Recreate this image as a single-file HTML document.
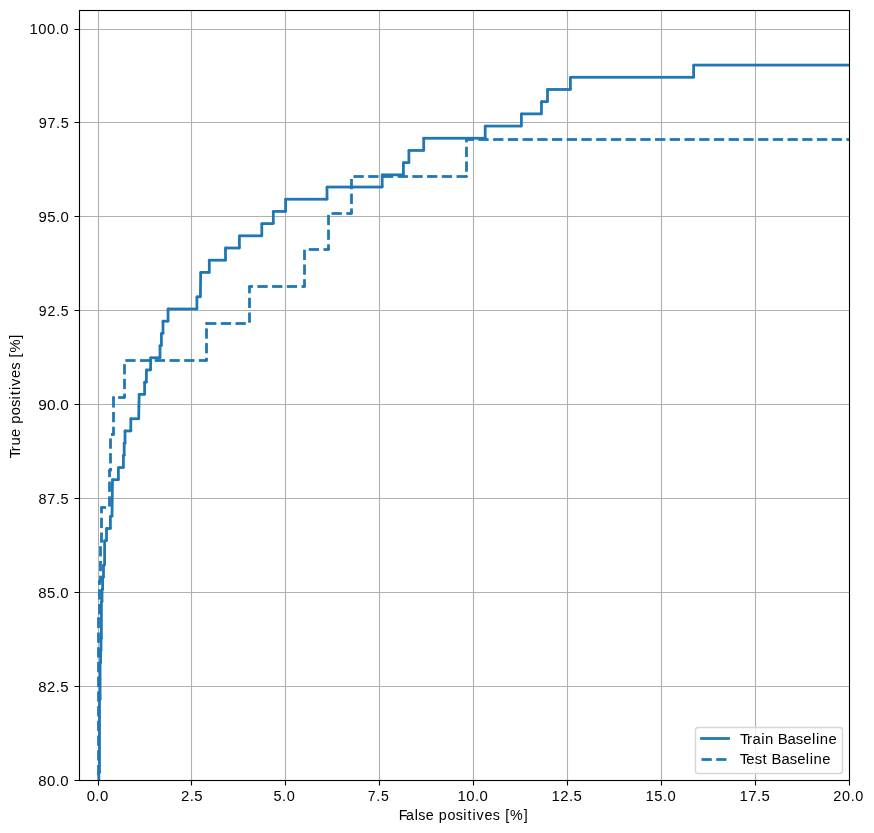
<!DOCTYPE html><html><head><meta charset="utf-8"><style>html,body{margin:0;padding:0;background:#fff;}svg{display:block;will-change:transform;}text{font-family:"Liberation Sans",sans-serif;fill:#000;}</style></head><body>
<svg width="874" height="833" viewBox="0 0 874 833">
<rect width="874" height="833" fill="#fff"/>
<path d="M98.5 10.5V780.5M191.5 10.5V780.5M285.5 10.5V780.5M379.5 10.5V780.5M473.5 10.5V780.5M567.5 10.5V780.5M661.5 10.5V780.5M755.5 10.5V780.5M79.5 686.5H849.5M79.5 592.5H849.5M79.5 498.5H849.5M79.5 404.5H849.5M79.5 310.5H849.5M79.5 216.5H849.5M79.5 122.5H849.5M79.5 29.5H849.5" stroke="#b0b0b0" stroke-width="1.11" fill="none"/>
<defs><clipPath id="c"><rect x="79.5" y="10.5" width="770" height="770"/></clipPath></defs>
<g clip-path="url(#c)" fill="#1f77b4">
<rect x="97.410" y="772.403" width="2.78" height="17.597"/><rect x="98.800" y="771.013" width="0.700" height="2.78"/><rect x="98.110" y="699.232" width="2.78" height="73.171"/><rect x="99.500" y="697.842" width="0.600" height="2.78"/><rect x="98.710" y="662.647" width="2.78" height="36.585"/><rect x="100.100" y="661.257" width="0.500" height="2.78"/><rect x="99.210" y="650.452" width="2.78" height="12.195"/><rect x="100.600" y="649.062" width="0.400" height="2.78"/><rect x="99.610" y="638.257" width="2.78" height="12.195"/><rect x="101.000" y="636.867" width="0.400" height="2.78"/><rect x="100.010" y="601.671" width="2.78" height="36.585"/><rect x="101.400" y="600.281" width="0.600" height="2.78"/><rect x="100.610" y="589.476" width="2.78" height="12.195"/><rect x="102.000" y="588.086" width="0.600" height="2.78"/><rect x="101.210" y="577.281" width="2.78" height="12.195"/><rect x="102.600" y="575.891" width="0.900" height="2.78"/><rect x="102.110" y="565.086" width="2.78" height="12.195"/><rect x="103.500" y="563.696" width="1.100" height="2.78"/><rect x="103.210" y="540.696" width="2.78" height="24.390"/><rect x="104.600" y="539.306" width="1.900" height="2.78"/><rect x="105.110" y="528.500" width="2.78" height="12.195"/><rect x="106.500" y="527.110" width="3.900" height="2.78"/><rect x="109.010" y="516.305" width="2.78" height="12.195"/><rect x="110.400" y="514.915" width="1.600" height="2.78"/><path d="M112.000 516.305L112.500 479.720" stroke="#1f77b4" stroke-width="2.78" fill="none"/><rect x="112.500" y="478.330" width="5.900" height="2.78"/><rect x="117.010" y="467.525" width="2.78" height="12.195"/><rect x="118.400" y="466.135" width="5.000" height="2.78"/><rect x="122.010" y="455.330" width="2.78" height="12.195"/><rect x="123.400" y="453.940" width="0.800" height="2.78"/><rect x="122.810" y="443.135" width="2.78" height="12.195"/><rect x="124.200" y="441.745" width="0.800" height="2.78"/><rect x="123.610" y="430.940" width="2.78" height="12.195"/><rect x="125.000" y="429.550" width="5.800" height="2.78"/><rect x="129.410" y="418.744" width="2.78" height="12.195"/><rect x="130.800" y="417.354" width="7.900" height="2.78"/><path d="M138.700 418.744L138.900 406.549" stroke="#1f77b4" stroke-width="2.78" fill="none"/><path d="M138.900 406.549L139.200 394.354" stroke="#1f77b4" stroke-width="2.78" fill="none"/><rect x="139.200" y="392.964" width="5.400" height="2.78"/><rect x="143.210" y="382.159" width="2.78" height="12.195"/><rect x="144.600" y="380.769" width="1.800" height="2.78"/><rect x="145.010" y="369.964" width="2.78" height="12.195"/><rect x="146.400" y="368.574" width="4.200" height="2.78"/><rect x="149.210" y="357.769" width="2.78" height="12.195"/><rect x="150.600" y="356.379" width="9.400" height="2.78"/><rect x="158.610" y="345.574" width="2.78" height="12.195"/><rect x="160.000" y="344.184" width="1.400" height="2.78"/><rect x="160.010" y="333.379" width="2.78" height="12.195"/><rect x="161.400" y="331.989" width="1.600" height="2.78"/><rect x="161.610" y="321.183" width="2.78" height="12.195"/><rect x="163.000" y="319.793" width="5.050" height="2.78"/><rect x="166.660" y="308.988" width="2.78" height="12.195"/><rect x="168.050" y="307.598" width="28.850" height="2.78"/><rect x="195.510" y="296.793" width="2.78" height="12.195"/><rect x="196.900" y="295.403" width="3.500" height="2.78"/><path d="M200.400 296.793L200.700 272.403" stroke="#1f77b4" stroke-width="2.78" fill="none"/><rect x="200.700" y="271.013" width="8.600" height="2.78"/><rect x="207.910" y="260.208" width="2.78" height="12.195"/><rect x="209.300" y="258.818" width="16.200" height="2.78"/><rect x="224.110" y="248.013" width="2.78" height="12.195"/><rect x="225.500" y="246.623" width="13.900" height="2.78"/><rect x="238.010" y="235.818" width="2.78" height="12.195"/><rect x="239.400" y="234.428" width="22.400" height="2.78"/><rect x="260.410" y="223.622" width="2.78" height="12.195"/><rect x="261.800" y="222.232" width="11.500" height="2.78"/><rect x="271.910" y="211.427" width="2.78" height="12.195"/><rect x="273.300" y="210.037" width="12.300" height="2.78"/><rect x="284.210" y="199.232" width="2.78" height="12.195"/><rect x="285.600" y="197.842" width="41.400" height="2.78"/><rect x="325.610" y="187.037" width="2.78" height="12.195"/><rect x="327.000" y="185.647" width="55.200" height="2.78"/><rect x="380.810" y="174.842" width="2.78" height="12.195"/><rect x="382.200" y="173.452" width="21.200" height="2.78"/><rect x="402.010" y="162.647" width="2.78" height="12.195"/><rect x="403.400" y="161.257" width="5.500" height="2.78"/><rect x="407.510" y="150.452" width="2.78" height="12.195"/><rect x="408.900" y="149.062" width="14.800" height="2.78"/><rect x="422.310" y="138.257" width="2.78" height="12.195"/><rect x="423.700" y="136.867" width="61.500" height="2.78"/><rect x="483.810" y="126.061" width="2.78" height="12.195"/><rect x="485.200" y="124.671" width="36.200" height="2.78"/><rect x="520.010" y="113.866" width="2.78" height="12.195"/><rect x="521.400" y="112.476" width="20.050" height="2.78"/><rect x="540.060" y="101.671" width="2.78" height="12.195"/><rect x="541.450" y="100.281" width="6.050" height="2.78"/><rect x="546.110" y="89.476" width="2.78" height="12.195"/><rect x="547.500" y="88.086" width="22.900" height="2.78"/><rect x="569.010" y="77.281" width="2.78" height="12.195"/><rect x="570.400" y="75.891" width="123.200" height="2.78"/><rect x="692.210" y="65.086" width="2.78" height="12.195"/><rect x="693.600" y="63.696" width="166.400" height="2.78"/><circle cx="98.800" cy="772.403" r="1.39"/><circle cx="99.500" cy="772.403" r="1.39"/><circle cx="99.500" cy="699.232" r="1.39"/><circle cx="100.100" cy="699.232" r="1.39"/><circle cx="100.100" cy="662.647" r="1.39"/><circle cx="100.600" cy="662.647" r="1.39"/><circle cx="100.600" cy="650.452" r="1.39"/><circle cx="101.000" cy="650.452" r="1.39"/><circle cx="101.000" cy="638.257" r="1.39"/><circle cx="101.400" cy="638.257" r="1.39"/><circle cx="101.400" cy="601.671" r="1.39"/><circle cx="102.000" cy="601.671" r="1.39"/><circle cx="102.000" cy="589.476" r="1.39"/><circle cx="102.600" cy="589.476" r="1.39"/><circle cx="102.600" cy="577.281" r="1.39"/><circle cx="103.500" cy="577.281" r="1.39"/><circle cx="103.500" cy="565.086" r="1.39"/><circle cx="104.600" cy="565.086" r="1.39"/><circle cx="104.600" cy="540.696" r="1.39"/><circle cx="106.500" cy="540.696" r="1.39"/><circle cx="106.500" cy="528.500" r="1.39"/><circle cx="110.400" cy="528.500" r="1.39"/><circle cx="110.400" cy="516.305" r="1.39"/><circle cx="112.000" cy="516.305" r="1.39"/><circle cx="112.500" cy="479.720" r="1.39"/><circle cx="118.400" cy="479.720" r="1.39"/><circle cx="118.400" cy="467.525" r="1.39"/><circle cx="123.400" cy="467.525" r="1.39"/><circle cx="123.400" cy="455.330" r="1.39"/><circle cx="124.200" cy="455.330" r="1.39"/><circle cx="124.200" cy="443.135" r="1.39"/><circle cx="125.000" cy="443.135" r="1.39"/><circle cx="125.000" cy="430.940" r="1.39"/><circle cx="130.800" cy="430.940" r="1.39"/><circle cx="130.800" cy="418.744" r="1.39"/><circle cx="138.700" cy="418.744" r="1.39"/><circle cx="138.900" cy="406.549" r="1.39"/><circle cx="139.200" cy="394.354" r="1.39"/><circle cx="144.600" cy="394.354" r="1.39"/><circle cx="144.600" cy="382.159" r="1.39"/><circle cx="146.400" cy="382.159" r="1.39"/><circle cx="146.400" cy="369.964" r="1.39"/><circle cx="150.600" cy="369.964" r="1.39"/><circle cx="150.600" cy="357.769" r="1.39"/><circle cx="160.000" cy="357.769" r="1.39"/><circle cx="160.000" cy="345.574" r="1.39"/><circle cx="161.400" cy="345.574" r="1.39"/><circle cx="161.400" cy="333.379" r="1.39"/><circle cx="163.000" cy="333.379" r="1.39"/><circle cx="163.000" cy="321.183" r="1.39"/><circle cx="168.050" cy="321.183" r="1.39"/><circle cx="168.050" cy="308.988" r="1.39"/><circle cx="196.900" cy="308.988" r="1.39"/><circle cx="196.900" cy="296.793" r="1.39"/><circle cx="200.400" cy="296.793" r="1.39"/><circle cx="200.700" cy="272.403" r="1.39"/><circle cx="209.300" cy="272.403" r="1.39"/><circle cx="209.300" cy="260.208" r="1.39"/><circle cx="225.500" cy="260.208" r="1.39"/><circle cx="225.500" cy="248.013" r="1.39"/><circle cx="239.400" cy="248.013" r="1.39"/><circle cx="239.400" cy="235.818" r="1.39"/><circle cx="261.800" cy="235.818" r="1.39"/><circle cx="261.800" cy="223.622" r="1.39"/><circle cx="273.300" cy="223.622" r="1.39"/><circle cx="273.300" cy="211.427" r="1.39"/><circle cx="285.600" cy="211.427" r="1.39"/><circle cx="285.600" cy="199.232" r="1.39"/><circle cx="327.000" cy="199.232" r="1.39"/><circle cx="327.000" cy="187.037" r="1.39"/><circle cx="382.200" cy="187.037" r="1.39"/><circle cx="382.200" cy="174.842" r="1.39"/><circle cx="403.400" cy="174.842" r="1.39"/><circle cx="403.400" cy="162.647" r="1.39"/><circle cx="408.900" cy="162.647" r="1.39"/><circle cx="408.900" cy="150.452" r="1.39"/><circle cx="423.700" cy="150.452" r="1.39"/><circle cx="423.700" cy="138.257" r="1.39"/><circle cx="485.200" cy="138.257" r="1.39"/><circle cx="485.200" cy="126.061" r="1.39"/><circle cx="521.400" cy="126.061" r="1.39"/><circle cx="521.400" cy="113.866" r="1.39"/><circle cx="541.450" cy="113.866" r="1.39"/><circle cx="541.450" cy="101.671" r="1.39"/><circle cx="547.500" cy="101.671" r="1.39"/><circle cx="547.500" cy="89.476" r="1.39"/><circle cx="570.400" cy="89.476" r="1.39"/><circle cx="570.400" cy="77.281" r="1.39"/><circle cx="693.600" cy="77.281" r="1.39"/><circle cx="693.600" cy="65.086" r="1.39"/>
<rect x="97.110" y="779.720" width="2.78" height="10.280"/>
<rect x="97.110" y="765.000" width="2.78" height="10.280"/>
<rect x="97.110" y="750.280" width="2.78" height="10.280"/>
<rect x="97.110" y="735.560" width="2.78" height="10.280"/>
<rect x="97.110" y="720.840" width="2.78" height="10.280"/>
<rect x="97.110" y="706.120" width="2.78" height="10.280"/>
<rect x="97.110" y="691.400" width="2.78" height="10.280"/>
<rect x="97.110" y="676.680" width="2.78" height="10.280"/>
<rect x="97.110" y="661.960" width="2.78" height="10.280"/>
<rect x="97.110" y="647.240" width="2.78" height="10.280"/>
<rect x="97.110" y="632.520" width="2.78" height="10.280"/>
<rect x="97.110" y="618.500" width="2.78" height="9.580"/><rect x="98.500" y="617.110" width="0.700" height="2.78"/><circle cx="98.500" cy="618.500" r="1.39"/>
<rect x="98.110" y="604.080" width="2.78" height="10.280"/>
<rect x="98.110" y="589.360" width="2.78" height="10.280"/>
<rect x="98.110" y="581.500" width="2.78" height="3.420"/><rect x="99.500" y="580.110" width="1.000" height="2.78"/><rect x="99.110" y="575.640" width="2.78" height="5.860"/><circle cx="99.500" cy="581.500" r="1.39"/><circle cx="100.500" cy="581.500" r="1.39"/>
<rect x="99.110" y="560.920" width="2.78" height="10.280"/>
<rect x="99.110" y="546.200" width="2.78" height="10.280"/>
<rect x="100.110" y="532.480" width="2.78" height="10.280"/>
<rect x="100.110" y="517.760" width="2.78" height="10.280"/>
<rect x="100.110" y="507.500" width="2.78" height="5.820"/><rect x="101.500" y="506.110" width="4.460" height="2.78"/><circle cx="101.500" cy="507.500" r="1.39"/>
<rect x="108.110" y="496.320" width="2.78" height="10.280"/>
<rect x="108.110" y="481.600" width="2.78" height="10.280"/>
<rect x="108.110" y="470.500" width="2.78" height="6.660"/><rect x="109.500" y="469.110" width="1.000" height="2.78"/><rect x="109.110" y="467.880" width="2.78" height="2.620"/><circle cx="109.500" cy="470.500" r="1.39"/><circle cx="110.500" cy="470.500" r="1.39"/>
<rect x="109.110" y="453.160" width="2.78" height="10.280"/>
<rect x="109.110" y="438.440" width="2.78" height="10.280"/>
<rect x="111.000" y="433.110" width="2.500" height="2.78"/><rect x="112.110" y="426.720" width="2.78" height="7.780"/><circle cx="113.500" cy="434.500" r="1.39"/>
<rect x="112.110" y="412.000" width="2.78" height="10.280"/>
<rect x="112.110" y="397.500" width="2.78" height="10.060"/><rect x="113.500" y="396.110" width="0.220" height="2.78"/><circle cx="113.500" cy="397.500" r="1.39"/>
<rect x="118.160" y="396.110" width="6.340" height="2.78"/><rect x="123.110" y="393.560" width="2.78" height="3.940"/><circle cx="124.500" cy="397.500" r="1.39"/>
<rect x="123.110" y="378.840" width="2.78" height="10.280"/>
<rect x="123.110" y="364.120" width="2.78" height="10.280"/>
<rect x="125.320" y="359.110" width="10.280" height="2.78"/>
<rect x="140.040" y="359.110" width="10.280" height="2.78"/>
<rect x="154.760" y="359.110" width="10.280" height="2.78"/>
<rect x="169.480" y="359.110" width="10.280" height="2.78"/>
<rect x="184.200" y="359.110" width="10.280" height="2.78"/>
<rect x="198.920" y="359.110" width="7.580" height="2.78"/><rect x="205.110" y="357.800" width="2.78" height="2.700"/><circle cx="206.500" cy="360.500" r="1.39"/>
<rect x="205.110" y="343.080" width="2.78" height="10.280"/>
<rect x="205.110" y="328.360" width="2.78" height="10.280"/>
<rect x="205.110" y="323.500" width="2.78" height="0.420"/><rect x="206.500" y="322.110" width="9.860" height="2.78"/><circle cx="206.500" cy="323.500" r="1.39"/>
<rect x="220.800" y="322.110" width="10.280" height="2.78"/>
<rect x="235.520" y="322.110" width="10.280" height="2.78"/>
<rect x="248.110" y="312.480" width="2.78" height="10.280"/>
<rect x="248.110" y="297.760" width="2.78" height="10.280"/>
<rect x="248.110" y="286.500" width="2.78" height="6.820"/><rect x="249.500" y="285.110" width="3.460" height="2.78"/><circle cx="249.500" cy="286.500" r="1.39"/>
<rect x="257.400" y="285.110" width="10.280" height="2.78"/>
<rect x="272.120" y="285.110" width="10.280" height="2.78"/>
<rect x="286.840" y="285.110" width="10.280" height="2.78"/>
<rect x="301.560" y="285.110" width="2.940" height="2.78"/><rect x="303.110" y="279.160" width="2.78" height="7.340"/><circle cx="304.500" cy="286.500" r="1.39"/>
<rect x="303.110" y="264.440" width="2.78" height="10.280"/>
<rect x="303.110" y="249.720" width="2.78" height="10.280"/>
<rect x="308.720" y="248.110" width="10.280" height="2.78"/>
<rect x="323.440" y="248.110" width="5.060" height="2.78"/><rect x="327.110" y="244.280" width="2.78" height="5.220"/><circle cx="328.500" cy="249.500" r="1.39"/>
<rect x="327.110" y="229.560" width="2.78" height="10.280"/>
<rect x="327.110" y="214.840" width="2.78" height="10.280"/>
<rect x="331.600" y="212.110" width="10.280" height="2.78"/>
<rect x="346.320" y="212.110" width="5.180" height="2.78"/><rect x="350.110" y="208.400" width="2.78" height="5.100"/><circle cx="351.500" cy="213.500" r="1.39"/>
<rect x="350.110" y="193.680" width="2.78" height="10.280"/>
<rect x="350.110" y="178.960" width="2.78" height="10.280"/>
<rect x="353.480" y="175.110" width="10.280" height="2.78"/>
<rect x="368.200" y="175.110" width="10.280" height="2.78"/>
<rect x="382.920" y="175.110" width="10.280" height="2.78"/>
<rect x="397.640" y="175.110" width="10.280" height="2.78"/>
<rect x="412.360" y="175.110" width="10.280" height="2.78"/>
<rect x="427.080" y="175.110" width="10.280" height="2.78"/>
<rect x="441.800" y="175.110" width="10.280" height="2.78"/>
<rect x="456.520" y="175.110" width="9.980" height="2.78"/><rect x="465.110" y="176.200" width="2.78" height="0.300"/><circle cx="466.500" cy="176.500" r="1.39"/>
<rect x="465.110" y="161.480" width="2.78" height="10.280"/>
<rect x="465.110" y="146.760" width="2.78" height="10.280"/>
<rect x="465.110" y="139.500" width="2.78" height="2.820"/><rect x="466.500" y="138.110" width="7.460" height="2.78"/><circle cx="466.500" cy="139.500" r="1.39"/>
<rect x="478.400" y="138.110" width="10.280" height="2.78"/>
<rect x="493.120" y="138.110" width="10.280" height="2.78"/>
<rect x="507.840" y="138.110" width="10.280" height="2.78"/>
<rect x="522.560" y="138.110" width="10.280" height="2.78"/>
<rect x="537.280" y="138.110" width="10.280" height="2.78"/>
<rect x="552.000" y="138.110" width="10.280" height="2.78"/>
<rect x="566.720" y="138.110" width="10.280" height="2.78"/>
<rect x="581.440" y="138.110" width="10.280" height="2.78"/>
<rect x="596.160" y="138.110" width="10.280" height="2.78"/>
<rect x="610.880" y="138.110" width="10.280" height="2.78"/>
<rect x="625.600" y="138.110" width="10.280" height="2.78"/>
<rect x="640.320" y="138.110" width="10.280" height="2.78"/>
<rect x="655.040" y="138.110" width="10.280" height="2.78"/>
<rect x="669.760" y="138.110" width="10.280" height="2.78"/>
<rect x="684.480" y="138.110" width="10.280" height="2.78"/>
<rect x="699.200" y="138.110" width="10.280" height="2.78"/>
<rect x="713.920" y="138.110" width="10.280" height="2.78"/>
<rect x="728.640" y="138.110" width="10.280" height="2.78"/>
<rect x="743.360" y="138.110" width="10.280" height="2.78"/>
<rect x="758.080" y="138.110" width="10.280" height="2.78"/>
<rect x="772.800" y="138.110" width="10.280" height="2.78"/>
<rect x="787.520" y="138.110" width="10.280" height="2.78"/>
<rect x="802.240" y="138.110" width="10.280" height="2.78"/>
<rect x="816.960" y="138.110" width="10.280" height="2.78"/>
<rect x="831.680" y="138.110" width="10.280" height="2.78"/>
<rect x="846.400" y="138.110" width="10.280" height="2.78"/>
</g>
<rect x="79.5" y="10.5" width="770.0" height="770.0" fill="none" stroke="#000" stroke-width="1.11"/>
<path d="M98.5 780.5v5M191.5 780.5v5M285.5 780.5v5M379.5 780.5v5M473.5 780.5v5M567.5 780.5v5M661.5 780.5v5M755.5 780.5v5M849.5 780.5v5M79.5 780.5h-5M79.5 686.5h-5M79.5 592.5h-5M79.5 498.5h-5M79.5 404.5h-5M79.5 310.5h-5M79.5 216.5h-5M79.5 122.5h-5M79.5 29.5h-5" stroke="#000" stroke-width="1.11" fill="none"/>
<text transform="scale(1.0754 1)" x="35.47 43.68 51.77 55.99" y="786.17" font-size="13.89">80.0</text>
<text transform="scale(1.0754 1)" x="35.60 43.81 51.90 56.12" y="692.33" font-size="13.89">82.5</text>
<text transform="scale(1.0754 1)" x="35.61 43.82 51.91 56.13" y="598.23" font-size="13.89">85.0</text>
<text transform="scale(1.0431 1)" x="36.83 45.30 53.57 57.99" y="504.33" font-size="13.89">87.5</text>
<text transform="scale(1.1076 1)" x="34.53 42.50 50.40 54.45" y="409.83" font-size="13.89">90.0</text>
<text transform="scale(1.0118 1)" x="38.33 47.06 55.53 60.14" y="315.96" font-size="13.89">92.5</text>
<text transform="scale(1.0754 1)" x="35.76 43.97 52.06 56.28" y="221.90" font-size="13.89">95.0</text>
<text transform="scale(1.0431 1)" x="37.04 45.50 53.78 58.19" y="127.95" font-size="13.89">97.5</text>
<text transform="scale(1.0431 1)" x="28.24 36.70 45.17 53.44 57.86" y="33.96" font-size="14.19">100.0</text>
<text transform="scale(1.0754 1)" x="80.60 88.68 92.91" y="801.32" font-size="13.89">0.0</text>
<text transform="scale(1.0754 1)" x="168.31 176.40 180.62" y="800.72" font-size="13.89">2.5</text>
<text transform="scale(1.0431 1)" x="262.17 270.45 274.86" y="801.22" font-size="13.89">5.0</text>
<text transform="scale(1.0118 1)" x="363.43 371.90 376.52" y="800.83" font-size="13.89">7.5</text>
<text transform="scale(1.0754 1)" x="425.46 433.67 441.76 445.98" y="800.83" font-size="13.89">10.0</text>
<text transform="scale(1.0754 1)" x="512.73 520.94 529.02 533.25" y="801.13" font-size="13.89">12.5</text>
<text transform="scale(1.0431 1)" x="618.83 627.29 635.57 639.98" y="801.01" font-size="14.19">15.0</text>
<text transform="scale(1.0754 1)" x="687.64 695.85 703.94 708.16" y="801.03" font-size="13.89">17.5</text>
<text transform="scale(1.0431 1)" x="798.87 807.34 815.61 820.03" y="801.35" font-size="13.89">20.0</text>
<text transform="scale(1.0294 1)" x="387.36 394.53 402.85 406.31 413.58 421.80 426.29 434.69 442.71 450.02 454.15 459.05 462.99 470.73 478.78 485.97 490.74 495.54 508.81" y="819.87" font-size="13.89">False positives [%]</text>
<text transform="translate(19.63 458.14) rotate(-90) scale(1.0418 1)" x="-0.17 6.64 12.05 20.37 28.51 32.93 41.23 49.16 56.41 60.48 65.33 69.19 76.84 84.80 91.92 96.64 101.32 114.49" y="0" font-size="14.19">True positives [%]</text>
<rect x="695.5" y="727.5" width="147" height="46" rx="2.8" ry="2.8" fill="#fff" fill-opacity="0.8" stroke="#d6d6d6" stroke-width="1.39"/>
<path d="M700.11 738.5H729.89" stroke="#1f77b4" stroke-width="2.78"/>
<path d="M701.5 759.5H711.78" stroke="#1f77b4" stroke-width="2.78"/><path d="M716.22 759.5H726.5" stroke="#1f77b4" stroke-width="2.78"/>
<text transform="scale(1.0760 1)" x="687.66 694.32 699.37 707.43 710.99 719.06 722.83 731.97 739.67 746.61 754.68 758.26 761.83 769.88" y="744.28" font-size="13.89">Train Baseline</text>
<text transform="scale(1.0702 1)" x="691.27 697.38 705.13 712.59 717.19 721.00 730.19 737.93 744.91 753.01 756.61 760.21 768.30" y="764.41" font-size="13.89">Test Baseline</text>
</svg></body></html>
